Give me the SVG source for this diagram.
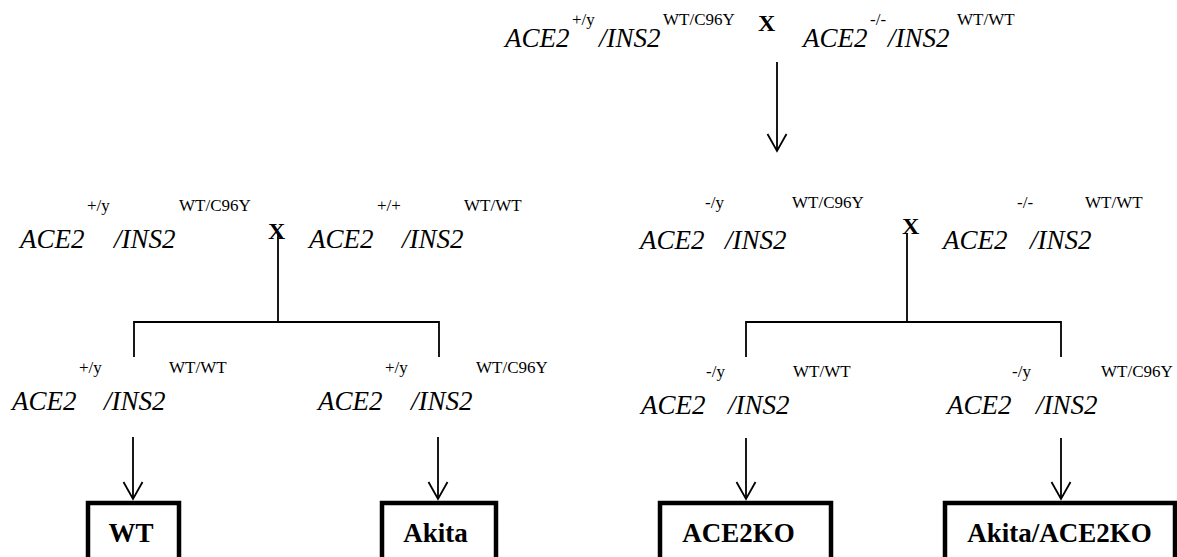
<svg xmlns="http://www.w3.org/2000/svg" width="1177" height="557" viewBox="0 0 1177 557">
<defs>
<style>
text{font-family:'Liberation Serif','Times New Roman',serif;fill:#000}
.m{font-style:italic;font-size:27px}
.s{font-style:normal;font-size:17px}
.x{font-weight:bold;font-size:24px}
.b{fill:#fff;stroke:#000;stroke-width:4.5}
.bt{font-weight:bold;font-size:27px;text-anchor:middle}
.c{fill:none;stroke:#000;stroke-width:1.8}
</style>
<marker id="ah" markerUnits="userSpaceOnUse" markerWidth="20" markerHeight="20" refX="0" refY="0" orient="auto" overflow="visible">
<path d="M -17 -9.5 L 0 0 L -17 9.5" fill="none" stroke="#000" stroke-width="1.8"/>
</marker>
</defs>
<rect width="1177" height="557" fill="#fff"/>

<g id="connectors">
<line class="c" x1="777" y1="62" x2="777" y2="151" marker-end="url(#ah)"/>
<polyline class="c" points="278,233 278,322"/>
<polyline class="c" points="134,357 134,322 439,322 439,357"/>
<polyline class="c" points="907,233 907,322"/>
<polyline class="c" points="746,357 746,322 1061,322 1061,357"/>
<line class="c" x1="133" y1="437" x2="133" y2="499" marker-end="url(#ah)"/>
<line class="c" x1="438" y1="437" x2="438" y2="499" marker-end="url(#ah)"/>
<line class="c" x1="746" y1="438" x2="746" y2="499" marker-end="url(#ah)"/>
<line class="c" x1="1061" y1="438" x2="1061" y2="499" marker-end="url(#ah)"/>
</g>

<g id="cross-top">
<text class="m"><tspan x="505" y="47">ACE2</tspan><tspan class="s" x="572" y="25">+/y</tspan><tspan x="599" y="47">/INS2</tspan><tspan class="s" x="663" y="25">WT/C96Y</tspan></text>
<text class="x" x="758" y="31">X</text>
<text class="m"><tspan x="803" y="47">ACE2</tspan><tspan class="s" x="870" y="25">-/-</tspan><tspan x="888" y="47">/INS2</tspan><tspan class="s" x="957" y="25">WT/WT</tspan></text>
</g>

<g id="cross-left">
<text class="m"><tspan x="20" y="248">ACE2</tspan><tspan class="s" x="87" y="211">+/y</tspan><tspan x="114" y="248">/INS2</tspan><tspan class="s" x="179" y="211">WT/C96Y</tspan></text>
<text class="x" x="268" y="239">X</text>
<text class="m"><tspan x="309" y="248">ACE2</tspan><tspan class="s" x="377" y="211">+/+</tspan><tspan x="402" y="248">/INS2</tspan><tspan class="s" x="464" y="211">WT/WT</tspan></text>
</g>

<g id="cross-right">
<text class="m"><tspan x="640" y="249">ACE2</tspan><tspan class="s" x="705" y="208">-/y</tspan><tspan x="725" y="249">/INS2</tspan><tspan class="s" x="792" y="208">WT/C96Y</tspan></text>
<text class="x" x="902" y="234">X</text>
<text class="m"><tspan x="943" y="249">ACE2</tspan><tspan class="s" x="1017" y="208">-/-</tspan><tspan x="1030" y="249">/INS2</tspan><tspan class="s" x="1085" y="208">WT/WT</tspan></text>
</g>

<g id="geno-wt">
<text class="m"><tspan x="12" y="410">ACE2</tspan><tspan class="s" x="79" y="373">+/y</tspan><tspan x="104" y="410">/INS2</tspan><tspan class="s" x="169" y="373">WT/WT</tspan></text>
</g>
<g id="geno-akita">
<text class="m"><tspan x="318" y="410">ACE2</tspan><tspan class="s" x="385" y="373">+/y</tspan><tspan x="411" y="410">/INS2</tspan><tspan class="s" x="476" y="373">WT/C96Y</tspan></text>
</g>
<g id="geno-ace2ko">
<text class="m"><tspan x="641" y="414">ACE2</tspan><tspan class="s" x="706" y="377">-/y</tspan><tspan x="728" y="414">/INS2</tspan><tspan class="s" x="793" y="377">WT/WT</tspan></text>
</g>
<g id="geno-akita-ace2ko">
<text class="m"><tspan x="947" y="414">ACE2</tspan><tspan class="s" x="1012" y="377">-/y</tspan><tspan x="1036" y="414">/INS2</tspan><tspan class="s" x="1101" y="377">WT/C96Y</tspan></text>
</g>

<g id="box-wt">
<rect class="b" x="88" y="503" width="91" height="60"/>
<text class="bt" x="131" y="542">WT</text>
</g>
<g id="box-akita">
<rect class="b" x="382" y="503" width="114" height="60"/>
<text class="bt" x="435.5" y="542">Akita</text>
</g>
<g id="box-ace2ko">
<rect class="b" x="660" y="503" width="171" height="60"/>
<text class="bt" x="738.5" y="542">ACE2KO</text>
</g>
<g id="box-akita-ace2ko">
<rect class="b" x="945" y="503" width="230" height="60"/>
<text class="bt" x="1059.5" y="542">Akita/ACE2KO</text>
</g>
</svg>
